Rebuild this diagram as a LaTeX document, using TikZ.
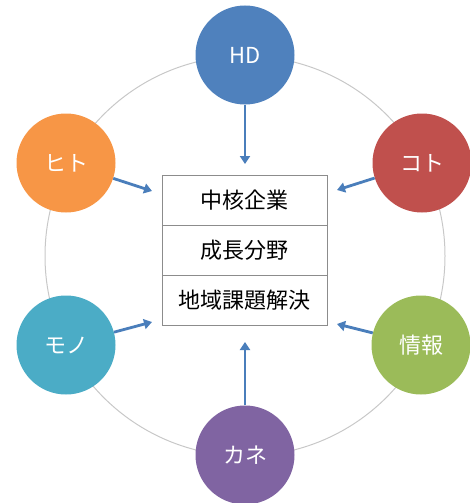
\documentclass[tikz,border=0pt]{standalone}
\usepackage{fontspec}
\setmainfont{Noto Sans CJK JP}
\usetikzlibrary{arrows.meta}
\definecolor{cHD}{HTML}{4F81BD}
\definecolor{cHito}{HTML}{F79646}
\definecolor{cKoto}{HTML}{C0504D}
\definecolor{cMono}{HTML}{4BACC6}
\definecolor{cJou}{HTML}{9BBB59}
\definecolor{cKane}{HTML}{8064A2}
\definecolor{cArrow}{HTML}{4A7EBB}
\definecolor{ring}{HTML}{C8C8C8}
\definecolor{boxline}{HTML}{8C8C8C}
\tikzset{
  ball/.style={circle, minimum size=99pt, inner sep=0pt, text=white, font=\fontsize{22}{24}\selectfont},
  cell/.style={draw=boxline, line width=1pt, minimum width=165pt, minimum height=50pt, inner sep=0pt, font=\fontsize{22}{24}\selectfont},
  feed/.style={draw=cArrow, line width=2.8pt, -{Triangle[width=10pt,length=8pt]}},
}
\begin{document}
\begin{tikzpicture}[x=1pt,y=-1pt]
\useasboundingbox (0,0) rectangle (470,503);
\node[draw=ring, line width=1pt, circle, minimum size=400pt, inner sep=0pt] (ring) at (245,256) {};
\node[cell] (r1) at (244.5,200) {中核企業};
\node[cell] (r2) at (244.5,250) {成長分野};
\node[cell] (r3) at (244.5,300) {地域課題解決};
\node[ball, fill=cHD] (hd) at (245,55) {HD};
\node[ball, fill=cHito] (hito) at (66,163) {ヒト};
\node[ball, fill=cKoto] (koto) at (422,163) {コト};
\node[ball, fill=cMono] (mono) at (66,345) {モノ};
\node[ball, fill=cJou] (jou) at (421,345) {情報};
\node[ball, fill=cKane] (kane) at (245,455) {カネ};
\coordinate (tHD) at (245,164);
\coordinate (tHito) at (152,191);
\coordinate (tKoto) at (337,190);
\coordinate (tMono) at (152,322);
\coordinate (tJou) at (337,324);
\coordinate (tKane) at (245,342);
\draw[feed] (hd) -- (tHD);
\draw[feed] (hito) -- (tHito);
\draw[feed] (koto) -- (tKoto);
\draw[feed] (mono) -- (tMono);
\draw[feed] (jou) -- (tJou);
\draw[feed] (kane) -- (tKane);
\end{tikzpicture}
\end{document}
